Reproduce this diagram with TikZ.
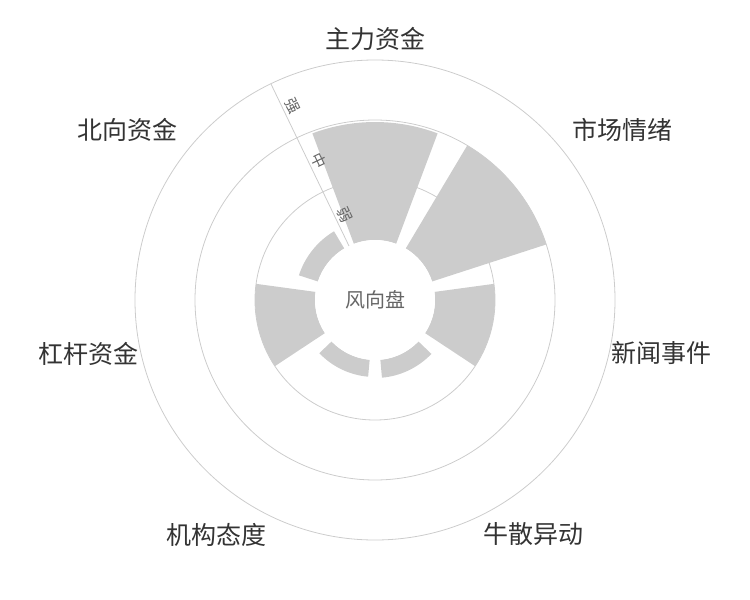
\documentclass[tikz,border=0pt]{standalone}
\usetikzlibrary{calc}
\usepackage{fontspec}
\setmainfont{Noto Sans CJK SC}
\begin{document}
\begin{tikzpicture}[x=1pt,y=1pt,
  ring/.style={draw=black!20,line width=0.8pt},
  bar/.style={fill=black!20},
  cat/.style={text=black!80,font=\fontsize{25}{25}\selectfont,inner sep=2pt},
  tick/.style={text=black!60,font=\fontsize{15}{15}\selectfont,inner sep=1pt}]
\useasboundingbox (0,0) rectangle (750,-600);
\begin{scope}[shift={(375,-300)}]
\foreach \r in {240,180,120} \draw[ring] (0,0) circle[radius=\r];
\foreach \i/\v in {0/178,1/180,2/120,3/78,4/77,5/120,6/80}{
  \pgfmathsetmacro\ca{90-\i*51.4286}
  \pgfmathsetmacro\aa{\ca-20.6}
  \pgfmathsetmacro\ab{\ca+20.6}
  \fill[bar] (\aa:60) -- (\aa:\v) arc[start angle=\aa,end angle=\ab,radius=\v] -- (\ab:60) arc[start angle=\ab,end angle=\aa,radius=60] -- cycle;
}
\fill[white] (0,0) circle[radius=60];
\coordinate (a0) at (115.71:60);
\coordinate (a1) at (115.71:240);
\draw[ring] (a0) -- (a1);
\node[tick,rotate=-64.3] (t1) at ($(115.71:90)+(25.71:10)$) {弱};
\node[tick,rotate=-64.3] (t2) at ($(115.71:150)+(25.71:10)$) {中};
\node[tick,rotate=-64.3] (t3) at ($(115.71:210)+(25.71:10)$) {强};
\node[text=black!60,font=\fontsize{20}{20}\selectfont] (c) at (0,0) {风向盘};
\node[cat,anchor=south] (l0) at (90:247) {主力资金};
\node[cat,anchor=south west] (l1) at (38.6:250) {市场情绪};
\node[cat,anchor=west] (l2) at (-12.86:240) {新闻事件};
\node[cat,anchor=north west] (l3) at (-64.3:245) {牛散异动};
\node[cat,anchor=north east] (l4) at (-115.7:245) {机构态度};
\node[cat,anchor=east] (l5) at (192.86:240) {杠杆资金};
\node[cat,anchor=south east] (l6) at (141.4:250) {北向资金};
\end{scope}
\end{tikzpicture}
\end{document}
